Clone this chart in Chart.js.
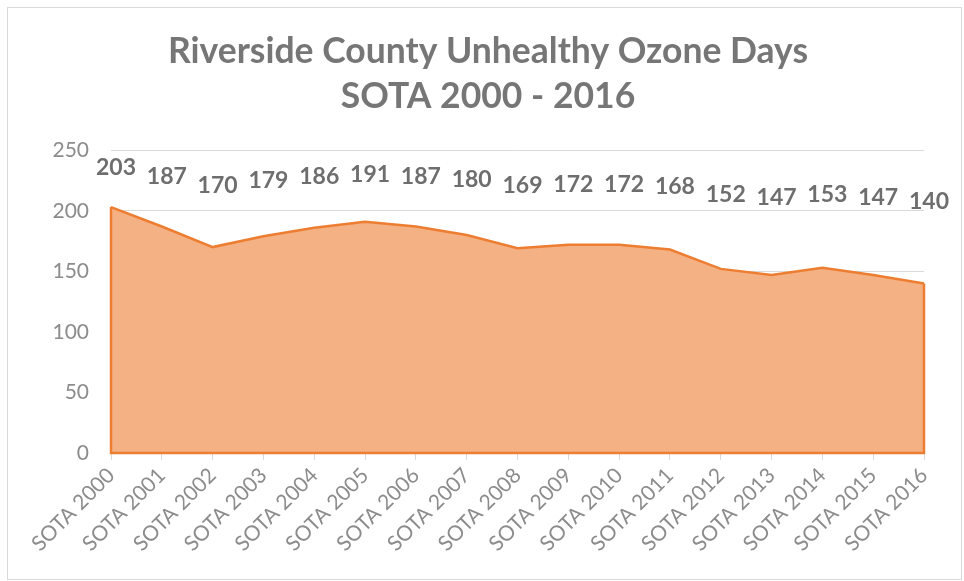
<!DOCTYPE html>
<html>
<head>
<meta charset="utf-8">
<script src="https://cdn.jsdelivr.net/npm/chart.js@4/dist/chart.umd.min.js"></script>
<style>
  html, body { margin: 0; padding: 0; background: #fff; }
  #wrap { position: relative; width: 964px; height: 581px; }
</style>
</head>
<body>
<div id="wrap"><canvas id="ozone"></canvas></div>
<script>
// chart data
var years = ['SOTA 2000','SOTA 2001','SOTA 2002','SOTA 2003','SOTA 2004','SOTA 2005','SOTA 2006','SOTA 2007','SOTA 2008',
             'SOTA 2009','SOTA 2010','SOTA 2011','SOTA 2012','SOTA 2013','SOTA 2014','SOTA 2015','SOTA 2016'];
var ozoneDays = [203, 187, 170, 179, 186, 191, 187, 180, 169, 172, 172, 168, 152, 147, 153, 147, 140];
var titleLines = ['Riverside County Unhealthy Ozone Days', 'SOTA 2000 - 2016'];
var yMax = 250, yStep = 50;

var FONT = 'Lato, "Open Sans", sans-serif';

// light frame round the whole picture
var framePlugin = {
  id: 'frame',
  beforeDraw: function (chart) {
    var c = chart.ctx;
    c.save();
    c.fillStyle = '#fff';
    c.fillRect(0, 0, chart.width, chart.height);
    c.strokeStyle = '#d9d9d9';
    c.lineWidth = 1;
    c.strokeRect(7.5, 7.5, chart.width - 10, chart.height - 9);
    c.restore();
  }
};

// edges of the area + value labels
var labelPlugin = {
  id: 'valueLabels',
  afterDatasetsDraw: function (chart) {
    var c = chart.ctx;
    var meta = chart.getDatasetMeta(0);
    var ys = chart.scales.y;
    var base = ys.getPixelForValue(0);
    var pts = meta.data;
    c.save();
    c.strokeStyle = '#ED7D31';
    c.lineWidth = 2.5;
    c.beginPath();
    c.moveTo(pts[0].x, pts[0].y);
    c.lineTo(pts[0].x, base);
    c.lineTo(pts[pts.length - 1].x, base);
    c.lineTo(pts[pts.length - 1].x, pts[pts.length - 1].y);
    c.stroke();

    c.font = 'bold 23px ' + FONT;
    c.fillStyle = '#6e6e6e';
    c.textAlign = 'center';
    c.textBaseline = 'middle';
    var ref = ys.getPixelForValue(261);
    pts.forEach(function (p, i) {
      var y = ref + 0.44 * (p.y - ref);
      c.fillText(String(ozoneDays[i]), p.x + 5, y);
    });
    c.restore();
  }
};

var ctx = document.getElementById('ozone').getContext('2d');
var ozoneChart = new Chart(ctx, {
  type: 'line',
  data: {
    labels: years,
    datasets: [{
      data: ozoneDays,
      fill: 'origin',
      backgroundColor: 'rgb(244, 177, 131)',
      borderColor: '#ED7D31',
      borderWidth: 2.5,
      pointRadius: 0,
      tension: 0
    }]
  },
  options: {
    responsive: true,
    maintainAspectRatio: false,
    animation: false,
    layout: { padding: { left: 12, right: 0, top: 0, bottom: 0 } },
    plugins: {
      legend: { display: false },
      tooltip: { enabled: false },
      title: {
        display: true,
        text: titleLines,
        color: '#767676',
        font: { family: FONT, size: 35.5, weight: 'bold', lineHeight: 1.27 },
        padding: { top: 29, bottom: 31 }
      }
    },
    scales: {
      x: {
        offset: false,
        grid: { drawOnChartArea: false, drawTicks: true, tickLength: 7, color: '#d9d9d9' },
        border: { display: true, color: '#d9d9d9' },
        ticks: {
          color: '#8c8c8c',
          font: { family: FONT, size: 21 },
          minRotation: 45,
          maxRotation: 45,
          autoSkip: false,
          padding: 3
        },
        afterFit: function (s) { s.height = 128; }
      },
      y: {
        min: 0,
        max: yMax,
        grid: { color: '#d9d9d9', drawTicks: false },
        border: { display: false },
        ticks: {
          stepSize: yStep,
          color: '#8c8c8c',
          font: { family: FONT, size: 21 },
          padding: 22
        },
        afterFit: function (s) { s.width = 99; }
      },
      // empty right-hand margin
      yRight: {
        position: 'right',
        min: 0,
        max: yMax,
        grid: { drawOnChartArea: false, drawTicks: false },
        border: { display: false },
        ticks: { display: false },
        afterFit: function (s) { s.width = 40; }
      }
    }
  },
  plugins: [framePlugin, labelPlugin]
});
</script>
</body>
</html>
